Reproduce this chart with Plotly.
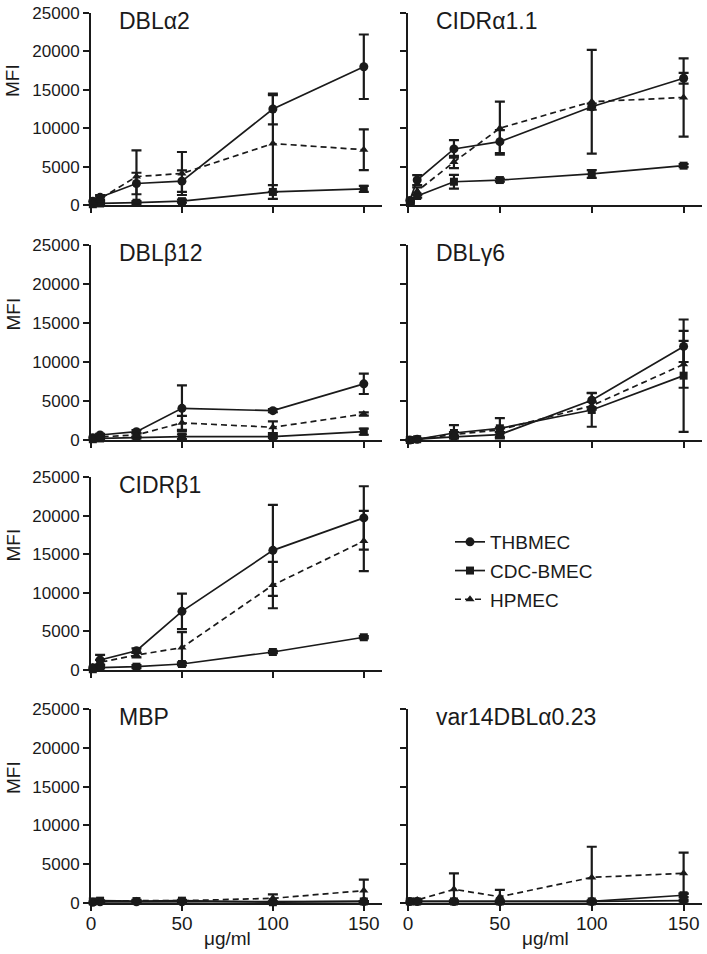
import plotly.graph_objects as go

# ---------------- data ----------------
conc = [1, 5, 25, 50, 100, 150]
series_names = ["THBMEC", "CDC-BMEC", "HPMEC"]
x_ticks = [0, 50, 100, 150]
y_ticks = [0, 5000, 10000, 15000, 20000, 25000]

# DBLα2
dbla2_thb = [500, 1000, 2800, 3100, 12500, 18000]
dbla2_thb_err = [200, 300, 1400, 1400, 2000, 4200]
dbla2_cdc = [100, 200, 300, 500, 1700, 2100]
dbla2_cdc_err = [50, 100, 200, 200, 900, 400]
dbla2_hpm = [300, 800, 3700, 4100, 8000, 7200]
dbla2_hpm_err = [200, 300, 3400, 2800, 6300, 2650]

# CIDRα1.1
cidra_thb = [600, 3250, 7300, 8250, 12800, 16500]
cidra_thb_err = [300, 650, 1150, 1500, 400, 700]
cidra_cdc = [400, 1170, 3030, 3250, 4040, 5120]
cidra_cdc_err = [100, 200, 900, 200, 500, 200]
cidra_hpm = [300, 1800, 5600, 10000, 13450, 14000]
cidra_hpm_err = [200, 500, 800, 3450, 6750, 5100]

# DBLβ12
dblb_thb = [300, 640, 1070, 4060, 3760, 7200]
dblb_thb_err = [100, 150, 200, 2950, 200, 1300]
dblb_cdc = [100, 200, 300, 430, 430, 1070]
dblb_cdc_err = [50, 50, 100, 300, 200, 400]
dblb_hpm = [200, 400, 640, 2200, 1630, 3330]
dblb_hpm_err = [100, 100, 200, 900, 750, 200]

# DBLγ6
dblg_thb = [0, 100, 400, 700, 5100, 12000]
dblg_thb_err = [50, 50, 200, 300, 950, 2000]
dblg_cdc = [0, 100, 900, 1500, 3850, 8250]
dblg_cdc_err = [50, 50, 1000, 1300, 2150, 7200]
dblg_hpm = [0, 100, 700, 1300, 4400, 9700]
dblg_hpm_err = [50, 50, 300, 300, 500, 3000]

# CIDRβ1
cidrb_thb = [300, 1300, 2500, 7600, 15500, 19700]
cidrb_thb_err = [200, 650, 300, 2300, 5900, 4100]
cidrb_cdc = [100, 300, 430, 780, 2330, 4240]
cidrb_cdc_err = [50, 100, 200, 200, 150, 150]
cidrb_hpm = [400, 1000, 1940, 2900, 11000, 16700]
cidrb_hpm_err = [200, 300, 300, 2000, 3000, 3900]

# MBP
mbp_thb = [100, 150, 150, 150, 150, 200]
mbp_thb_err = [50, 50, 50, 50, 50, 50]
mbp_cdc = [200, 300, 250, 300, 100, 200]
mbp_cdc_err = [50, 50, 50, 50, 50, 50]
mbp_hpm = [100, 200, 300, 300, 600, 1600]
mbp_hpm_err = [50, 50, 100, 100, 500, 1400]

# var14DBLα0.23
var14_thb = [200, 200, 200, 200, 200, 300]
var14_thb_err = [100, 100, 100, 100, 100, 100]
var14_cdc = [200, 200, 200, 200, 200, 1000]
var14_cdc_err = [100, 100, 100, 100, 100, 250]
var14_hpm = [200, 380, 1760, 810, 3300, 3830]
var14_hpm_err = [100, 100, 2070, 870, 3950, 2650]

panel_titles = ["DBLα2", "CIDRα1.1", "DBLβ12", "DBLγ6", "CIDRβ1", "MBP", "var14DBLα0.23"]
panel_data = [
    [(dbla2_thb, dbla2_thb_err), (dbla2_cdc, dbla2_cdc_err), (dbla2_hpm, dbla2_hpm_err)],
    [(cidra_thb, cidra_thb_err), (cidra_cdc, cidra_cdc_err), (cidra_hpm, cidra_hpm_err)],
    [(dblb_thb, dblb_thb_err), (dblb_cdc, dblb_cdc_err), (dblb_hpm, dblb_hpm_err)],
    [(dblg_thb, dblg_thb_err), (dblg_cdc, dblg_cdc_err), (dblg_hpm, dblg_hpm_err)],
    [(cidrb_thb, cidrb_thb_err), (cidrb_cdc, cidrb_cdc_err), (cidrb_hpm, cidrb_hpm_err)],
    [(mbp_thb, mbp_thb_err), (mbp_cdc, mbp_cdc_err), (mbp_hpm, mbp_hpm_err)],
    [(var14_thb, var14_thb_err), (var14_cdc, var14_cdc_err), (var14_hpm, var14_hpm_err)],
]
# (row, col) of each panel
panel_pos = [(0, 0), (0, 1), (1, 0), (1, 1), (2, 0), (3, 0), (3, 1)]

# ---------------- layout geometry (pixels) ----------------
W, H = 707, 954
col_px = [(91, 382), (408, 702)]
row_px = [(13, 205), (245, 440), (477, 670), (709, 903)]

FONT = "Liberation Sans, Arial, Helvetica, sans-serif"
INK = "#1a1a1a"

styles = [
    dict(symbol="circle", size=9, dash="solid"),
    dict(symbol="square", size=8, dash="solid"),
    dict(symbol="triangle-up", size=8, dash="6px,4px"),
]

fig = go.Figure()
layout = {}
annotations = []

for i, (title, data, (r, c)) in enumerate(zip(panel_titles, panel_data, panel_pos)):
    n = i + 1
    xa = "x" if n == 1 else f"x{n}"
    ya = "y" if n == 1 else f"y{n}"
    for s, (name, (vals, errs), st) in enumerate(zip(series_names, data, styles)):
        fig.add_trace(go.Scatter(
            x=conc, y=vals, xaxis=xa, yaxis=ya, name=name,
            legendgroup=name, showlegend=(i == 0),
            mode="lines+markers",
            line=dict(color=INK, width=1.7, dash=st["dash"]),
            marker=dict(color=INK, symbol=st["symbol"], size=st["size"]),
            error_y=dict(type="data", array=errs, visible=True, color=INK,
                         thickness=2.2, width=5),
            cliponaxis=False,
        ))
    x0, x1 = col_px[c]
    y0, y1 = row_px[r]
    bottom = (r == 3)
    left = (c == 0)
    layout["xaxis" if n == 1 else f"xaxis{n}"] = dict(
        domain=[x0 / W, x1 / W], anchor=ya, range=[0, 160],
        tickvals=x_ticks, showticklabels=bottom, automargin=False,
        ticks="outside", ticklen=6, tickwidth=2, tickcolor=INK,
        ticklabelstandoff=-4,
        showline=True, linewidth=2, linecolor=INK, showgrid=False, zeroline=False,
        tickfont=dict(size=19, color=INK, family=FONT),
    )
    layout["yaxis" if n == 1 else f"yaxis{n}"] = dict(
        domain=[1 - y1 / H, 1 - y0 / H], anchor=xa, range=[0, 25000],
        tickvals=y_ticks, tickformat="d", showticklabels=left, automargin=False,
        ticks="outside", ticklen=6, tickwidth=2, tickcolor=INK,
        showline=True, linewidth=2, linecolor=INK, showgrid=False, zeroline=False,
        tickfont=dict(size=17, color=INK, family=FONT),
    )
    annotations.append(dict(
        text=title, xref="paper", yref="paper",
        x=(x0 + 26) / W, y=1 - (y0 + 8) / H, xanchor="left", yanchor="middle",
        showarrow=False, font=dict(size=23, color=INK, family=FONT),
    ))
    if left:
        annotations.append(dict(
            text="MFI", xref="paper", yref="paper", textangle=-90,
            x=13 / W, y=1 - ((y0 + y1) / 2 - 28) / H, xanchor="center", yanchor="middle",
            showarrow=False, font=dict(size=19, color=INK, family=FONT),
        ))
    if bottom:
        annotations.append(dict(
            text="μg/ml", xref="paper", yref="paper",
            x=(x0 + (x1 - x0) * 150 / 160 / 2) / W, y=1 - 938 / H,
            xanchor="center", yanchor="middle",
            showarrow=False, font=dict(size=19, color=INK, family=FONT),
        ))

fig.update_layout(
    **layout,
    annotations=annotations,
    width=W, height=H,
    margin=dict(l=0, r=0, t=0, b=0, autoexpand=False),
    paper_bgcolor="white", plot_bgcolor="white",
    font=dict(family=FONT, color=INK),
    showlegend=True,
    legend=dict(
        x=450 / W, y=1 - 523 / H, xanchor="left", yanchor="top",
        font=dict(size=19, color=INK, family=FONT),
        bgcolor="rgba(0,0,0,0)", tracegroupgap=1,
    ),
)

fig.write_html(
    "out.html",
    config={"displayModeBar": False},
    post_script="document.body.style.margin='0';document.body.style.padding='0';",
)
